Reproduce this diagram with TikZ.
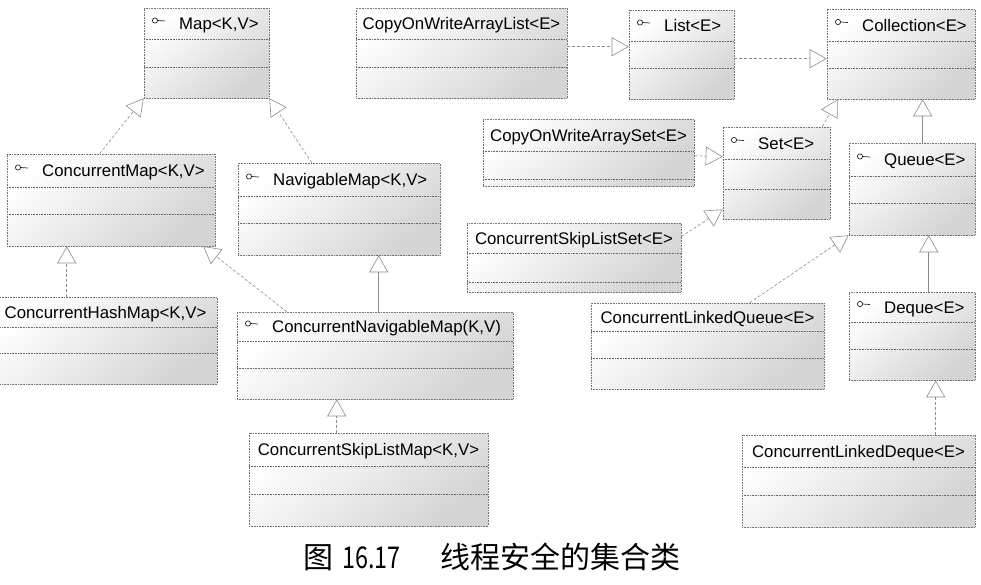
\documentclass[tikz,border=0pt]{standalone}
\usepackage{graphicx}
\usepackage{fontspec}
\setmainfont{Liberation Sans}
\newfontfamily\cjk{Noto Sans CJK SC}
\usetikzlibrary{arrows.meta,fit}
\tikzset{
  umlbox/.style={draw=black!55, densely dotted, line width=0.6pt, inner sep=0pt,
    top color=white, bottom color=black!17, shading angle=40},
  sepline/.style={draw=black!60, densely dotted, line width=0.6pt},
  boxtext/.style={font=\fontsize{16.8}{20}\selectfont, inner sep=0pt, text height=12pt, text depth=0pt},
  icon/.style={draw=black!85, line width=0.7pt},
  dep/.style={draw=black!45, line width=0.6pt, dash pattern=on 3pt off 2pt,
    -{Triangle[open,length=17pt,width=19pt]}},
  gen/.style={draw=black!45, line width=0.6pt,
    -{Triangle[open,length=17pt,width=19pt]}},
  captext/.style={font=\cjk\fontsize{30}{32}\selectfont, inner sep=0pt, anchor=west}
}
\newcommand{\umlbox}[9]{%
  \node[umlbox, fit={(#2,#3)(#4,#5)}] (#1) {};
  \draw[sepline] (#2,#6) -- (#4,#6);
  \draw[sepline] (#2,#7) -- (#4,#7);
  \ifnum#9=1
    \draw[icon] ({#2+11},{(#3+#6)/2-3}) circle (2.6pt);
    \draw[icon] ({#2+13.6},{(#3+#6)/2-3}) -- ({#2+21},{(#3+#6)/2-2.5});
    \node[boxtext, anchor=west] (#1-t) at ({#2+35},{(#3+#6)/2}) {#8};
  \else
    \node[boxtext] (#1-t) at ({(#2+#4)/2},{(#3+#6)/2}) {#8};
  \fi
}
\begin{document}
\begin{tikzpicture}[x=1pt,y=-1pt]
\useasboundingbox[fill=white] (0,0) rectangle (981,584);

\umlbox{map}{144}{8}{269}{98}{39}{67}{Map<K,V>}{1}
\umlbox{cowal}{356}{8}{567}{98}{39}{67}{CopyOnWriteArrayList<E>}{0}
\umlbox{list}{629}{10}{734}{99}{41}{68}{List<E>}{1}
\umlbox{coll}{827}{9}{975}{99}{41}{68}{Collection<E>}{1}
\umlbox{cmap}{7}{154}{215}{246}{187}{214}{ConcurrentMap<K,V>}{1}
\umlbox{nmap}{238}{163}{440}{255}{196}{223}{NavigableMap<K,V>}{1}
\umlbox{cowas}{483}{119}{694}{186}{151}{179}{CopyOnWriteArraySet<E>}{0}
\umlbox{set}{723}{127}{830}{219}{159}{189}{Set<E>}{1}
\umlbox{queue}{849}{143}{975}{235}{176}{203}{Queue<E>}{1}
\umlbox{csls}{467}{223}{681}{292}{253}{282}{ConcurrentSkipListSet<E>}{0}
\umlbox{chm}{-6}{297}{217}{384}{327}{353}{ConcurrentHashMap<K,V>}{0}
\umlbox{cnm}{237}{312}{513}{399}{341}{368}{ConcurrentNavigableMap(K,V)}{1}
\umlbox{clq}{591}{303}{824}{389}{331}{358}{ConcurrentLinkedQueue<E>}{0}
\umlbox{deque}{849}{292}{975}{380}{322}{349}{Deque<E>}{1}
\umlbox{cslm}{249}{433}{488}{526}{466}{494}{ConcurrentSkipListMap<K,V>}{0}
\umlbox{cld}{742}{435}{975}{527}{467}{495}{ConcurrentLinkedDeque<E>}{0}

% connectors
\draw[dep] ([xshift=93pt]cmap.north west) -- (map.south west);
\draw[dep] ([xshift=74pt]nmap.north west) -- (map.south east);
\draw[dep] ([xshift=73pt]chm.north west) -- ([xshift=60pt]cmap.south west);
\draw[dep] ([xshift=50pt]cnm.north west) -- ([xshift=-12pt]cmap.south east);
\draw[gen] ([xshift=142pt]cnm.north west) -- ([xshift=141pt]nmap.south west);
\draw[dep] ([xshift=88pt]cslm.north west) -- ([xshift=100pt]cnm.south west);
\draw[dep] ([yshift=-39pt]cowal.north east) -- ([yshift=-37pt]list.north west);
\draw[dep] ([yshift=-49pt]list.north east) -- ([yshift=-50pt]coll.north west);
\draw[dep] ([yshift=-37pt]cowas.north east) -- ([yshift=-30pt]set.north west);
\draw[dep] ([yshift=-14pt]csls.north east) -- ([yshift=10pt]set.south west);
\draw[dep] ([xshift=-8pt]set.north east) -- ([xshift=11pt]coll.south west);
\draw[gen] ([xshift=74pt]queue.north west) -- ([xshift=96pt]coll.south west);
\draw[dep] ([xshift=159pt]clq.north west) -- (queue.south west);
\draw[gen] ([xshift=80pt]deque.north west) -- ([xshift=80pt]queue.south west);
\draw[dep] ([xshift=194pt]cld.north west) -- ([xshift=87pt]deque.south west);

% caption
\node[captext] (cap) at (303,557) {图\hspace{9pt}\scalebox{0.78}[1]{16.17}\hspace{40pt}线程安全的集合类};
\end{tikzpicture}
\end{document}
